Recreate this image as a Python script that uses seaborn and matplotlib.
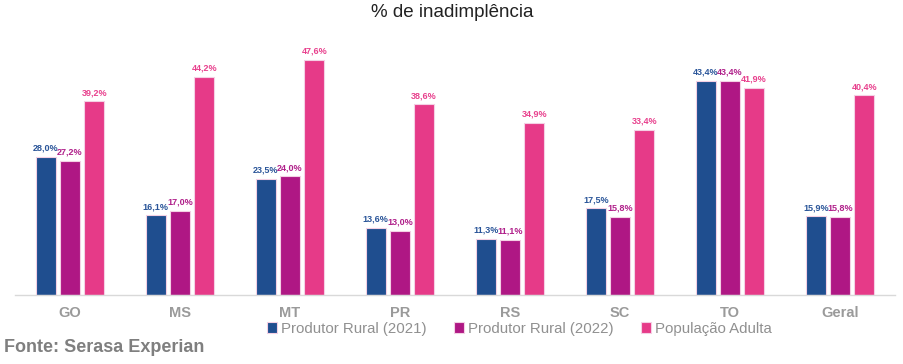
import pandas as pd
import matplotlib.pyplot as plt
import seaborn as sns

# Data
estados = ["GO", "MS", "MT", "PR", "RS", "SC", "TO", "Geral"]
series = ["Produtor Rural (2021)", "Produtor Rural (2022)", "População Adulta"]
rural_2021 = [28.0, 16.1, 23.5, 13.6, 11.3, 17.5, 43.4, 15.9]
rural_2022 = [27.2, 17.0, 24.0, 13.0, 11.1, 15.8, 43.4, 15.8]
pop_adulta = [39.2, 44.2, 47.6, 38.6, 34.9, 33.4, 41.9, 40.4]

colors = ["#1F4E8F", "#AF1784", "#E63A88"]
label_colors = ["#2A5599", "#B0208A", "#E8408D"]

df = pd.DataFrame({
    "estado": estados * 3,
    "serie": [series[0]] * 8 + [series[1]] * 8 + [series[2]] * 8,
    "valor": rural_2021 + rural_2022 + pop_adulta,
})

sns.set_style("white")
plt.rcParams["font.family"] = ["Liberation Sans", "DejaVu Sans"]

fig = plt.figure(figsize=(9.04, 3.64), dpi=100)
ax = fig.add_axes([0.0166, 0.19, 0.9734, 0.678])

sns.barplot(data=df, x="estado", y="valor", hue="serie", palette=colors,
            saturation=1, width=0.66, gap=0.18, edgecolor="#f4d0e4",
            linewidth=0.8, ax=ax, legend=True)

# data labels
for cont, lc in zip(ax.containers, label_colors):
    labels = [f"{v:.1f}%".replace(".", ",") for v in cont.datavalues]
    ax.bar_label(cont, labels=labels, padding=3, fontsize=6.5,
                 fontweight="bold", color=lc)

ax.set_ylim(0, 50)
ax.set_xlim(-0.5, 7.5)
ax.set_xlabel("")
ax.set_ylabel("")
ax.set_yticks([])
for s in ["top", "right", "left"]:
    ax.spines[s].set_visible(False)
ax.spines["bottom"].set_color("#d9d9d9")
ax.spines["bottom"].set_linewidth(1)
ax.tick_params(axis="x", length=0, pad=8, labelsize=10.5, labelcolor="#9a9a9a")
for t in ax.get_xticklabels():
    t.set_fontweight("bold")

ax.legend(loc="upper center", bbox_to_anchor=(0.573, -0.085), ncol=3,
          frameon=False, fontsize=10.8, labelcolor="#909090",
          handlelength=0.7, handleheight=0.7, handletextpad=0.25,
          columnspacing=1.8, borderaxespad=0)

fig.text(0.5, 0.965, "% de inadimplência", ha="center", va="center",
         fontsize=13.5, color="#222222")
fig.text(0.004, 0.045, "Fonte: Serasa Experian", ha="left", va="center",
         fontsize=13, fontweight="bold", color="#7f7f7f")

plt.savefig("out.png", dpi=100)
